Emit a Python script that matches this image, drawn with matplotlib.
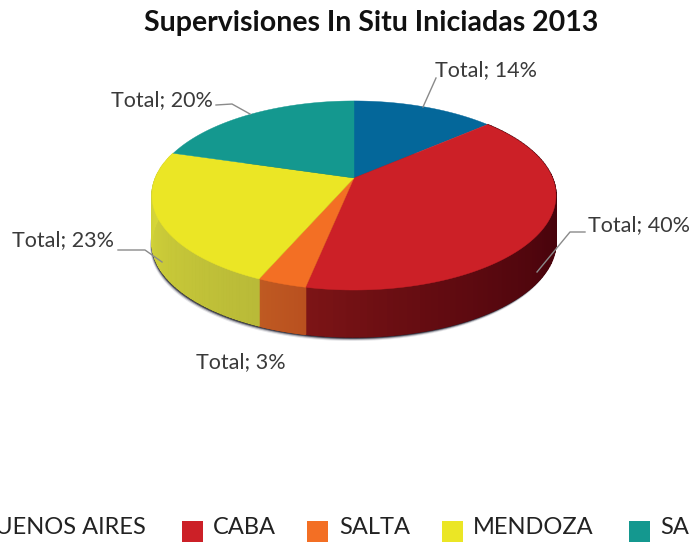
import numpy as np
import matplotlib
matplotlib.use("Agg")
import matplotlib.pyplot as plt
from matplotlib.colors import to_rgb
from matplotlib.patches import Polygon, Rectangle

categories = ["BUENOS AIRES", "CABA", "SALTA", "MENDOZA", "SAN"]
values = [13.6, 39.6, 3.3, 23.1, 20.4]
colors = ["#04679a", "#cc2027", "#f36f24", "#ebe625", "#14988f"]
# side wall gradient, from the clockwise start of the slice to its end
side_colors = {
    1: ("#40000a", "#7c1416"),
    2: ("#b9501f", "#bf5a22"),
    3: ("#b9ba38", "#dcdc38"),
}
title = "Supervisiones In Situ Iniciadas 2013"

# geometry of the fake 3D disc, in pixels
CX, CY = 354, 178
A, K, P = 198.5, 91.3, 0.185
DEPTH = 47


def project(theta):
    # theta clockwise from 12 o'clock, simple perspective on the unit circle
    x, y = np.sin(theta), np.cos(theta)
    d = 1 + P * y
    return CX + A * x / d, CY - K * y / d


plt.rcParams["font.family"] = "Lato"
fig = plt.figure(figsize=(6.91, 5.43), dpi=100)
ax = fig.add_axes([0, 0, 1, 1])
ax.set_xlim(0, 691)
ax.set_ylim(543, 0)
ax.axis("off")

# soft shadow under the disc, darkest on the lower left
t = np.linspace(0, 2 * np.pi, 240)
sx, sy = project(t)
for dx, grow, col, alpha in [
    (-2.0, 4.0, "#555566", 0.15),
    (-1.5, 3.0, "#333344", 0.30),
    (-1.0, 2.0, "#1a1a2a", 0.60),
    (-0.5, 1.0, "#14141f", 0.90),
]:
    ax.add_patch(Polygon(np.c_[sx + dx, sy + DEPTH + grow], fc=col, ec="none", alpha=alpha))

edges = np.deg2rad(np.cumsum([0] + values) * 3.6)

# side wall, only the front slices can be seen
for i, (c0, c1) in side_colors.items():
    tt = np.linspace(edges[i], edges[i + 1], 90)
    start = np.array(to_rgb(c0))
    end = np.array(to_rgb(c1))
    for j in range(len(tt) - 1):
        x, y = project(tt[j:j + 2])
        f = j / (len(tt) - 2)
        # the right part of the red wall stays close to the darkest tone
        if i == 1:
            f = f ** 2.2
        col = start + (end - start) * f
        pts = np.c_[np.r_[x, x[::-1]], np.r_[y, y[::-1] + DEPTH]]
        ax.add_patch(Polygon(pts, fc=col, ec=col, lw=1))

# top face
for i, col in enumerate(colors):
    tt = np.linspace(edges[i], edges[i + 1], 120)
    x, y = project(tt)
    ax.add_patch(Polygon(np.c_[np.r_[CX, x], np.r_[CY, y]], fc=col, ec=col, lw=0.3))

# leader lines
leader = "#8a8a8a"
ax.plot([423, 436], [107, 78], color=leader, lw=1)
ax.plot([216, 232, 250], [105, 104, 114], color=leader, lw=1)
ax.plot([118, 145, 162], [250, 250, 262], color=leader, lw=1)
ax.plot([585, 570, 537], [232, 232, 272], color=leader, lw=1)

# data labels
label_pos = [(435, 70), (588, 225), (196, 362), (12, 240), (111, 100)]
for v, (lx, ly) in zip(values, label_pos):
    ax.text(lx, ly, f"Total; {v:.0f}%", fontsize=15.5, color="#3a3a3a", ha="left", va="center")

ax.text(371, 23, title, fontsize=20.5, fontweight="bold", color="#111111", ha="center", va="center")

# legend runs past both edges of the picture
ax.text(146, 527, categories[0], fontsize=17, color="#222222", ha="right", va="center")
swatch_x = [182, 307, 442, 629]
text_x = [213, 339, 473, 660]
for cat, col, bx, tx in zip(categories[1:], colors[1:], swatch_x, text_x):
    ax.add_patch(Rectangle((bx, 521), 21, 21, fc=col, ec="none"))
    ax.text(tx, 527, cat, fontsize=17, color="#222222", ha="left", va="center")

fig.savefig("out.png", dpi=100)
